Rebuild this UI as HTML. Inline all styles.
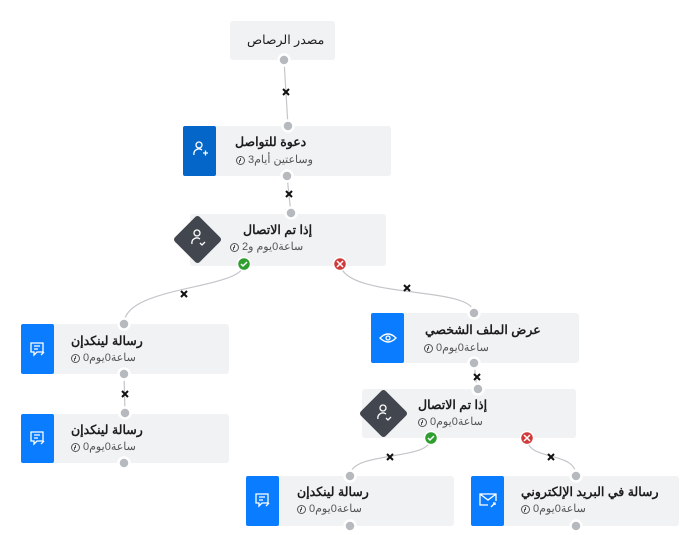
<!DOCTYPE html>
<html><head><meta charset="utf-8"><style>
body{margin:0;width:689px;height:535px;background:#fff;position:relative;overflow:hidden;font-family:"Liberation Sans","Noto Sans CJK SC",sans-serif}
.t{position:absolute;white-space:nowrap;direction:rtl;font-size:12.5px;font-weight:bold;color:#1d1d1f;line-height:14px}
.s{position:absolute;white-space:nowrap;display:flex;align-items:center;font-size:11px;color:#555;line-height:13px}
.s span{direction:rtl;margin-left:3px}
.c{width:9px;height:9px;border:1.2px solid #555;border-radius:50%;box-sizing:border-box;position:relative}
.c:after{content:"";position:absolute;left:3px;top:1px;width:1px;height:3px;background:#555;box-shadow:-1px 2px 0 0 #555}
</style></head><body>
<svg width="689" height="535" style="position:absolute;left:0;top:0">
<g fill="none" stroke="#c4c6ca" stroke-width="1.2">
<path d="M284 60 L288 126"/>
<path d="M287 176 L291 214"/>
<path d="M244 264 C244 290 124 285 124 324"/>
<path d="M340 264 C345 300 474 285 474 313"/>
<path d="M124 374 L125 414"/>
<path d="M474 363 L477 389"/>
<path d="M431 438 C431 462 350 450 350 476"/>
<path d="M527 438 C527 462 576 450 576 476"/>
</g>
<g fill="#f1f2f4">
<rect x="230" y="21" width="105" height="39" rx="3"/>
<rect x="183" y="126" width="208" height="50" rx="3"/>
<rect x="190" y="214" width="196" height="52" rx="3"/>
<rect x="21" y="324" width="208" height="50" rx="3"/>
<rect x="21" y="414" width="208" height="49" rx="3"/>
<rect x="371" y="313" width="208" height="50" rx="3"/>
<rect x="362" y="389" width="214" height="49" rx="3"/>
<rect x="246" y="476" width="208" height="50" rx="3"/>
<rect x="471" y="476" width="208" height="50" rx="3"/>
</g>
<rect x="183" y="126" width="33" height="50" rx="2" fill="#0466c8"/>
<rect x="21" y="324" width="33" height="50" rx="2" fill="#0a7cff"/>
<rect x="21" y="414" width="33" height="49" rx="2" fill="#0a7cff"/>
<rect x="371" y="313" width="33" height="50" rx="2" fill="#0a7cff"/>
<rect x="246" y="476" width="33" height="50" rx="2" fill="#0a7cff"/>
<rect x="471" y="476" width="33" height="50" rx="2" fill="#0a7cff"/>
<rect x="180" y="222" width="35" height="35" rx="3" fill="#42464e" transform="rotate(45 197.5 239.5)"/>
<rect x="366" y="396" width="35" height="35" rx="3" fill="#42464e" transform="rotate(45 383.5 413.5)"/>
<g fill="none" stroke="#fff" stroke-width="1.3">
<circle cx="199" cy="145" r="3"/><path d="M194 155 a5 5 0 0 1 8 -5 M203 153 h5 M205.5 150.5 v5"/>
<circle cx="197" cy="233" r="3"/><path d="M192 244 a5 5 0 0 1 8 -5 M200 243 l2 2 l3 -3"/>
<circle cx="383" cy="408" r="3"/><path d="M378 419 a5 5 0 0 1 8 -5 M386 418 l2 2 l3 -3"/>
<path d="M31 343 h12 v9 h-6 l-3 3 v-3 h-3 z M34 346 h6 M34 349 h4 M41 355 l3 -3"/>
<path d="M31 432 h12 v9 h-6 l-3 3 v-3 h-3 z M34 435 h6 M34 438 h4 M41 444 l3 -3"/>
<path d="M256 494 h12 v9 h-6 l-3 3 v-3 h-3 z M259 497 h6 M259 500 h4 M266 506 l3 -3"/>
<path d="M380 338 q8 -8 16 0 q-8 8 -16 0 z"/><circle cx="388" cy="338" r="2"/>
<path d="M488 505 h-8 v-11 h16 v7 M480 494 l8 6 l8 -6 M491 507 l4 -4 M493 503 h2 v2"/>
</g>
<g fill="#b6b9be" stroke="#fff" stroke-width="2.5">
<circle cx="284" cy="60" r="5.5"/><circle cx="288" cy="126" r="5.5"/><circle cx="287" cy="176" r="5.5"/>
<circle cx="291" cy="213" r="5.5"/><circle cx="124" cy="324" r="5.5"/><circle cx="124" cy="374" r="5.5"/>
<circle cx="125" cy="413" r="5.5"/><circle cx="124" cy="463" r="5.5"/><circle cx="474" cy="313" r="5.5"/>
<circle cx="474" cy="363" r="5.5"/><circle cx="478" cy="389" r="5.5"/><circle cx="350" cy="476" r="5.5"/>
<circle cx="350" cy="526" r="5.5"/><circle cx="576" cy="476" r="5.5"/><circle cx="576" cy="526" r="5.5"/>
</g>
<g stroke="#fff" stroke-width="1.5">
<circle cx="244" cy="264" r="6.5" fill="#2e9e2e"/><circle cx="340" cy="264" r="6.5" fill="#d13a3a"/>
<circle cx="431" cy="438" r="6.5" fill="#2e9e2e"/><circle cx="527" cy="438" r="6.5" fill="#d13a3a"/>
<path d="M241 264 l2 2 l4 -4 M337 261 l6 6 M343 261 l-6 6 M428 438 l2 2 l4 -4 M524 435 l6 6 M530 435 l-6 6" fill="none"/>
</g>
<g stroke="#111" stroke-width="2">
<path d="M283 89 l6 6 M289 89 l-6 6"/><path d="M286 191 l6 6 M292 191 l-6 6"/>
<path d="M181 291 l6 6 M187 291 l-6 6"/><path d="M404 285 l6 6 M410 285 l-6 6"/>
<path d="M122 391 l6 6 M128 391 l-6 6"/><path d="M474 374 l6 6 M480 374 l-6 6"/>
<path d="M387 454 l6 6 M393 454 l-6 6"/><path d="M548 454 l6 6 M554 454 l-6 6"/>
</g>
</svg>
<div class="t" style="left:247px;top:33px;font-weight:normal">مصدر الرصاص</div>
<div class="t" style="left:235px;top:135px">دعوة للتواصل</div>
<div class="s" style="left:236px;top:154px"><div class="c"></div><span>وساعتين أيام3</span></div>
<div class="t" style="left:243px;top:223px">إذا تم الاتصال</div>
<div class="s" style="left:230px;top:241px"><div class="c"></div><span>ساعة0يوم و2</span></div>
<div class="t" style="left:71px;top:334px">رسالة لينكدإن</div>
<div class="s" style="left:71px;top:352px"><div class="c"></div><span>ساعة0يوم0</span></div>
<div class="t" style="left:71px;top:423px">رسالة لينكدإن</div>
<div class="s" style="left:71px;top:441px"><div class="c"></div><span>ساعة0يوم0</span></div>
<div class="t" style="left:425px;top:323px">عرض الملف الشخصي</div>
<div class="s" style="left:424px;top:342px"><div class="c"></div><span>ساعة0يوم0</span></div>
<div class="t" style="left:418px;top:398px">إذا تم الاتصال</div>
<div class="s" style="left:418px;top:416px"><div class="c"></div><span>ساعة0يوم0</span></div>
<div class="t" style="left:297px;top:485px">رسالة لينكدإن</div>
<div class="s" style="left:297px;top:503px"><div class="c"></div><span>ساعة0يوم0</span></div>
<div class="t" style="left:521px;top:485px">رسالة في البريد الإلكتروني</div>
<div class="s" style="left:521px;top:503px"><div class="c"></div><span>ساعة0يوم0</span></div>
</body></html>
